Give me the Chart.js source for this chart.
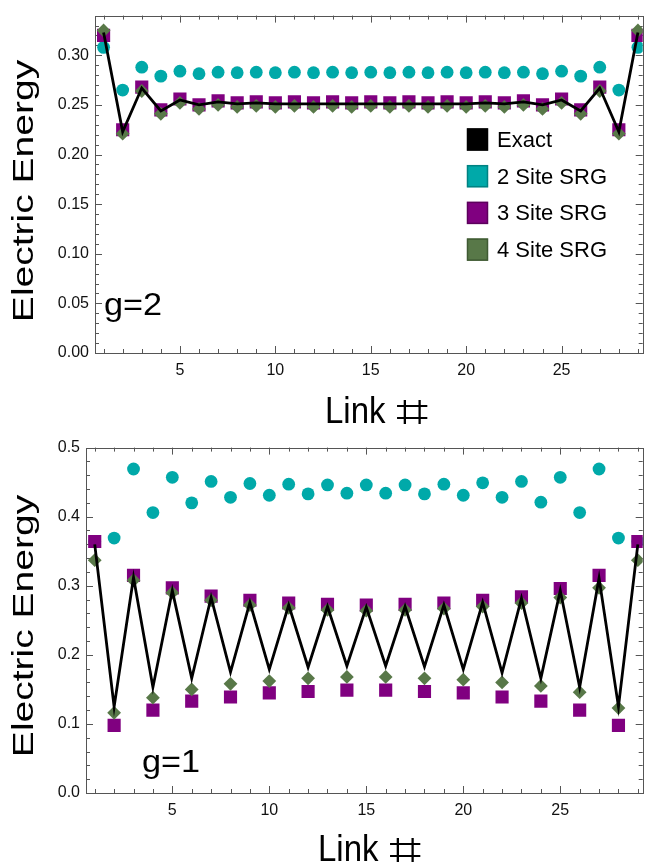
<!DOCTYPE html>
<html>
<head>
<meta charset="utf-8">
<script src="https://cdn.jsdelivr.net/npm/chart.js@4.4.1/dist/chart.umd.min.js"></script>
<style>
  html, body { margin: 0; padding: 0; background: #fff; }
  #wrap { position: relative; width: 652px; height: 865px; overflow: hidden; }
  canvas { position: absolute; left: 0; }
</style>
</head>
<body>
<div id="wrap">
  <canvas id="chartG2" width="652" height="432" style="top:0"></canvas>
  <canvas id="chartG1" width="652" height="433" style="top:432px"></canvas>
</div>
<script>
// link numbers along the chain
const links = [1, 2, 3, 4, 5, 6, 7, 8, 9, 10, 11, 12, 13, 14, 15, 16, 17, 18, 19, 20, 21, 22, 23, 24, 25, 26, 27, 28, 29];
const seriesNames = ["Exact", "2 Site SRG", "3 Site SRG", "4 Site SRG"];
const colours = ["#000000", "#00a9a9", "#800080", "#587848"];
const swatchEdges = ["#000000", "#008282", "#5c005c", "#3f5a33"];

const xTicks = [5, 10, 15, 20, 25];
const yTicksG2 = [0, 0.05, 0.1, 0.15, 0.2, 0.25, 0.3];
const yTicksG1 = [0, 0.1, 0.2, 0.3, 0.4, 0.5];

// g=2 panel
const exactG2 = [0.323, 0.223, 0.267, 0.244, 0.255, 0.250, 0.253, 0.251, 0.252, 0.251, 0.251, 0.251, 0.251, 0.251, 0.251,
                 0.251, 0.251, 0.251, 0.251, 0.251, 0.252, 0.251, 0.253, 0.250, 0.255, 0.244, 0.267, 0.223, 0.323];
const site2G2 = [0.308, 0.265, 0.288, 0.279, 0.284, 0.2815, 0.283, 0.2825, 0.283, 0.2825, 0.283, 0.2825, 0.283, 0.2825, 0.283,
                 0.2825, 0.283, 0.2825, 0.283, 0.2825, 0.283, 0.2825, 0.283, 0.2815, 0.284, 0.279, 0.288, 0.265, 0.308];
const site3G2 = [0.320, 0.225, 0.268, 0.245, 0.256, 0.250, 0.254, 0.252, 0.253, 0.252, 0.253, 0.252, 0.253, 0.252, 0.253,
                 0.252, 0.253, 0.252, 0.253, 0.252, 0.253, 0.252, 0.254, 0.250, 0.256, 0.245, 0.268, 0.225, 0.320];
const site4G2 = [0.325, 0.221, 0.264, 0.241, 0.252, 0.246, 0.250, 0.248, 0.249, 0.248, 0.249, 0.248, 0.249, 0.248, 0.249,
                 0.248, 0.249, 0.248, 0.249, 0.248, 0.249, 0.248, 0.250, 0.246, 0.252, 0.241, 0.264, 0.221, 0.325];

// g=1 panel
const exactG1 = [0.360, 0.125, 0.312, 0.153, 0.293, 0.166, 0.283, 0.175, 0.276, 0.179, 0.272, 0.182, 0.270, 0.184, 0.269,
                 0.184, 0.270, 0.183, 0.272, 0.179, 0.276, 0.174, 0.282, 0.166, 0.293, 0.153, 0.311, 0.125, 0.360];
const site2G1 = [0.364, 0.369, 0.469, 0.406, 0.457, 0.420, 0.451, 0.428, 0.448, 0.431, 0.447, 0.433, 0.446, 0.434, 0.446,
                 0.434, 0.446, 0.433, 0.447, 0.431, 0.449, 0.428, 0.451, 0.421, 0.457, 0.406, 0.469, 0.369, 0.364];
const site3G1 = [0.364, 0.098, 0.315, 0.120, 0.297, 0.133, 0.285, 0.139, 0.279, 0.145, 0.275, 0.147, 0.273, 0.149, 0.272,
                 0.149, 0.273, 0.147, 0.275, 0.145, 0.279, 0.139, 0.284, 0.133, 0.296, 0.120, 0.315, 0.098, 0.364];
const site4G1 = [0.337, 0.116, 0.308, 0.138, 0.290, 0.150, 0.279, 0.158, 0.272, 0.162, 0.268, 0.166, 0.265, 0.168, 0.264,
                 0.168, 0.265, 0.166, 0.267, 0.164, 0.270, 0.160, 0.275, 0.155, 0.283, 0.146, 0.297, 0.123, 0.337];

const FONT = "'Liberation Sans', Arial, 'DejaVu Sans', sans-serif";

function toXY(vals) {
  return vals.map((v, i) => ({ x: links[i], y: v }));
}

// Mathematica style frame with ticks pointing inward on all four sides
const frameTicks = {
  id: "frameTicks",
  beforeDatasetsDraw(chart, args, o) {
    const { ctx, chartArea: a, scales: { x, y } } = chart;
    ctx.save();
    ctx.strokeStyle = "#555";
    ctx.lineWidth = 1;
    ctx.beginPath();
    links.forEach((v) => {
      const px = Math.round(x.getPixelForValue(v)) + 0.5;
      const len = v % 5 === 0 ? 7 : 4;
      ctx.moveTo(px, a.bottom); ctx.lineTo(px, a.bottom - len);
      ctx.moveTo(px, a.top); ctx.lineTo(px, a.top + len);
    });
    const n = Math.round(y.max / o.yMinor);
    for (let i = 0; i <= n; i++) {
      const py = Math.round(y.getPixelForValue(i * o.yMinor)) + 0.5;
      const len = i % o.perMajor === 0 ? 7 : 4;
      ctx.moveTo(a.left, py); ctx.lineTo(a.left + len, py);
      ctx.moveTo(a.right, py); ctx.lineTo(a.right - len, py);
    }
    ctx.stroke();
    ctx.strokeRect(Math.round(a.left) + 0.5, Math.round(a.top) + 0.5,
                   Math.round(a.right - a.left), Math.round(a.bottom - a.top));
    ctx.restore();
  }
};

// axis titles, panel label and legend
const annotate = {
  id: "annotate",
  afterDraw(chart, args, o) {
    const ctx = chart.ctx;
    ctx.save();
    ctx.fillStyle = "#000";

    ctx.save();
    ctx.translate(o.yTitle[0], o.yTitle[1]);
    ctx.rotate(-Math.PI / 2);
    ctx.scale(1.3, 1);
    ctx.font = "30px " + FONT;
    ctx.textAlign = "center";
    ctx.fillText("Electric Energy", 0, 0);
    ctx.restore();

    // "Link" then a wide number sign
    ctx.save();
    ctx.font = "33px " + FONT;
    ctx.textAlign = "left";
    ctx.translate(o.xTitle[0], o.xTitle[1]);
    ctx.save();
    ctx.scale(1, 1.12);
    ctx.fillText("Link", 0, 0);
    ctx.restore();
    const w = ctx.measureText("Link ").width;
    ctx.translate(w + 1, 4);
    ctx.scale(1.75, 1.4);
    ctx.fillText("\u2317", 0, 0);
    ctx.restore();

    ctx.save();
    ctx.font = "32px " + FONT;
    ctx.textAlign = "left";
    ctx.translate(o.gPos[0], o.gPos[1]);
    ctx.scale(1.07, 1);
    ctx.fillText(o.gText, 0, 0);
    ctx.restore();

    if (o.legend) {
      ctx.font = "22px " + FONT;
      seriesNames.forEach((name, i) => {
        const top = 128.5 + i * 36.7;
        ctx.fillStyle = colours[i];
        ctx.fillRect(467, top, 21, 22);
        ctx.strokeStyle = swatchEdges[i];
        ctx.lineWidth = 1.5;
        ctx.strokeRect(467.5, top + 0.5, 20, 21);
        ctx.fillStyle = "#000";
        ctx.fillText(name, 497, top + 18.5);
      });
    }
    ctx.restore();
  }
};

function createChart(id, cfg) {
  return new Chart(document.getElementById(id), {
    type: "scatter",
    data: {
      datasets: [
        {
          label: seriesNames[0],
          data: toXY(cfg.exact),
          showLine: true,
          borderColor: colours[0],
          borderWidth: 2.8,
          pointRadius: 0,
          order: 0,
        },
        {
          label: seriesNames[1],
          data: toXY(cfg.site2),
          pointStyle: "circle",
          pointRadius: 6.4,
          pointBackgroundColor: colours[1],
          pointBorderWidth: 0,
          order: 3,
        },
        {
          label: seriesNames[2],
          data: toXY(cfg.site3),
          pointStyle: "rect",
          pointRadius: 9.3,
          pointBackgroundColor: colours[2],
          pointBorderWidth: 0,
          order: 2,
        },
        {
          label: seriesNames[3],
          data: toXY(cfg.site4),
          pointStyle: "rectRot",
          pointRadius: 6.9,
          pointBackgroundColor: colours[3],
          pointBorderWidth: 0,
          order: 1,
        },
      ],
    },
    options: {
      responsive: false,
      animation: false,
      events: [],
      layout: { padding: { top: cfg.padTop, right: 4, left: 0, bottom: 0 } },
      plugins: {
        legend: { display: false },
        tooltip: { enabled: false },
        frameTicks: { yMinor: cfg.yMinor, perMajor: cfg.perMajor },
        annotate: cfg.notes,
      },
      scales: {
        x: {
          type: "linear",
          min: 0.55,
          max: 29.25,
          grid: { display: false, drawTicks: false },
          border: { display: false },
          ticks: { font: { family: FONT, size: 16 }, color: "#111", padding: 8, maxRotation: 0, autoSkip: false },
          afterBuildTicks: (s) => { s.ticks = xTicks.map((v) => ({ value: v })); },
          afterFit: (s) => { s.height = cfg.xAxisH; },
        },
        y: {
          type: "linear",
          min: 0,
          max: cfg.yMax,
          grid: { display: false, drawTicks: false },
          border: { display: false },
          ticks: {
            font: { family: FONT, size: 16 },
            color: "#111",
            padding: 6,
            autoSkip: false,
            callback: (v) => Number(v).toFixed(cfg.decimals),
          },
          afterBuildTicks: (s) => { s.ticks = cfg.yTicks.map((v) => ({ value: v })); },
          afterFit: (s) => { s.width = cfg.yAxisW; },
        },
      },
    },
    plugins: [frameTicks, annotate],
  });
}

createChart("chartG2", {
  exact: exactG2, site2: site2G2, site3: site3G2, site4: site4G2,
  yMax: 0.34, yTicks: yTicksG2, decimals: 2, yMinor: 0.01, perMajor: 5,
  padTop: 10, xAxisH: 79, yAxisW: 95,
  notes: { yTitle: [33, 191], xTitle: [325, 423], gText: "g=2", gPos: [104, 315], legend: true },
});

createChart("chartG1", {
  exact: exactG1, site2: site2G1, site3: site3G1, site4: site4G1,
  yMax: 0.5, yTicks: yTicksG1, decimals: 1, yMinor: 0.02, perMajor: 5,
  padTop: 11, xAxisH: 72, yAxisW: 86,
  notes: { yTitle: [33, 194], xTitle: [318, 429], gText: "g=1", gPos: [142, 340], legend: false },
});
</script>
</body>
</html>
